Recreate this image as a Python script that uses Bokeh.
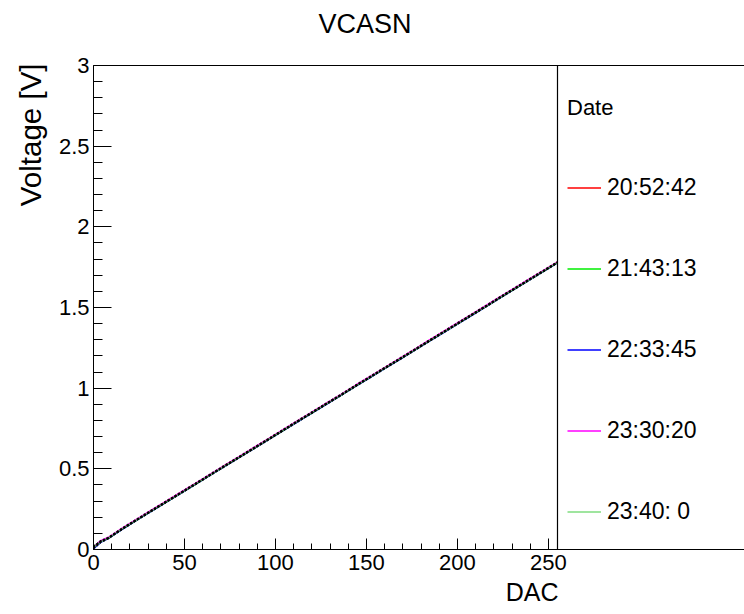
import math
from bokeh.plotting import figure
from bokeh.models import (Range1d, FixedTicker, LinearAxis, Span, Legend, Title,
                          LegendItem, CustomJSTickFormatter)
from bokeh.embed import file_html
from bokeh.resources import INLINE

# ---------------- data ----------------
dac = [0, 4, 8, 16, 24, 32, 40, 48, 56, 64, 72, 80, 88, 96, 104, 112, 120, 128,
       136, 144, 152, 160, 168, 176, 184, 192, 200, 208, 216, 224, 232, 240, 248, 255]

v_205242 = [0.010, 0.050, 0.071, 0.131, 0.187, 0.242, 0.298, 0.352, 0.408, 0.463, 0.519, 0.573,
            0.629, 0.684, 0.739, 0.795, 0.849, 0.905, 0.959, 1.016, 1.070, 1.126, 1.180, 1.236,
            1.291, 1.347, 1.401, 1.457, 1.511, 1.568, 1.622, 1.678, 1.732, 1.781]
v_214313 = [0.020, 0.052, 0.068, 0.128, 0.184, 0.240, 0.294, 0.350, 0.404, 0.461, 0.515, 0.571,
            0.625, 0.681, 0.736, 0.792, 0.846, 0.902, 0.956, 1.013, 1.067, 1.123, 1.177, 1.233,
            1.288, 1.344, 1.398, 1.454, 1.508, 1.565, 1.619, 1.675, 1.729, 1.778]
v_223345 = [0.005, 0.044, 0.067, 0.127, 0.183, 0.238, 0.293, 0.348, 0.403, 0.459, 0.514, 0.569,
            0.624, 0.679, 0.735, 0.790, 0.845, 0.900, 0.955, 1.011, 1.066, 1.121, 1.176, 1.231,
            1.287, 1.342, 1.397, 1.452, 1.507, 1.563, 1.618, 1.673, 1.728, 1.776]
v_233020 = [0.015, 0.055, 0.074, 0.134, 0.190, 0.245, 0.300, 0.355, 0.410, 0.466, 0.521, 0.576,
            0.631, 0.686, 0.742, 0.797, 0.852, 0.907, 0.962, 1.018, 1.073, 1.128, 1.183, 1.238,
            1.294, 1.349, 1.404, 1.459, 1.514, 1.570, 1.625, 1.680, 1.735, 1.783]
v_234000 = [0.012, 0.047, 0.069, 0.129, 0.185, 0.240, 0.295, 0.350, 0.405, 0.461, 0.516, 0.571,
            0.626, 0.681, 0.737, 0.792, 0.847, 0.902, 0.957, 1.013, 1.068, 1.123, 1.178, 1.233,
            1.289, 1.344, 1.399, 1.454, 1.509, 1.565, 1.620, 1.675, 1.730, 1.779]

series_labels = ["20:52:42", "21:43:13", "22:33:45", "23:30:20", "23:40: 0"]
series_values = [v_205242, v_214313, v_223345, v_233020, v_234000]
series_colors = ["#ff0000", "#00ee00", "#0000ff", "#ff00ff", "#7fdc7f"]

x_ticks = [0, 50, 100, 150, 200, 250]
x_minor = list(range(0, 251, 10))
y_ticks = [0, 0.5, 1, 1.5, 2, 2.5, 3]
y_minor = [i / 10 for i in range(0, 31)]

title_text = "VCASN"
x_title = "DAC"
y_title = "Voltage [V]"
legend_title = "Date"

# ---------------- layout ----------------
W, H = 744, 614
LEFT, TOP, BOTTOM = 93, 65, 65
frame_w = W - LEFT
data_px = 464.0  # pixels spanned by 0..max(dac)
x_end = max(dac) * frame_w / data_px

FONT = "Liberation Sans"

p = figure(width=W, height=H, output_backend="svg", toolbar_location=None,
           x_range=Range1d(0, x_end), y_range=Range1d(0, 3),
           min_border_left=LEFT, min_border_right=0, min_border_top=TOP,
           min_border_bottom=BOTTOM, x_axis_type=None, y_axis_type=None)
p.outline_line_color = None
p.background_fill_color = "white"
p.border_fill_color = "white"

xaxis = LinearAxis(ticker=FixedTicker(ticks=x_ticks, minor_ticks=x_minor))
xaxis.axis_line_color = "black"
xaxis.major_tick_line_color = "black"
xaxis.minor_tick_line_color = "black"
xaxis.major_tick_in = 11
xaxis.major_tick_out = 0
xaxis.minor_tick_in = 6
xaxis.minor_tick_out = 0
xaxis.major_label_standoff = 5
xaxis.major_label_text_font = FONT
xaxis.major_label_text_font_size = "22px"
xaxis.major_label_text_color = "black"
p.add_layout(xaxis, "below")

yaxis = LinearAxis(ticker=FixedTicker(ticks=y_ticks, minor_ticks=y_minor),
                   formatter=CustomJSTickFormatter(code="return String(tick)"))
yaxis.axis_line_color = "black"
yaxis.major_tick_line_color = "black"
yaxis.minor_tick_line_color = "black"
yaxis.major_tick_in = 18
yaxis.major_tick_out = 0
yaxis.minor_tick_in = 9
yaxis.minor_tick_out = 0
yaxis.major_label_standoff = 4
yaxis.major_label_text_font = FONT
yaxis.major_label_text_font_size = "22px"
yaxis.major_label_text_color = "black"
p.add_layout(yaxis, "left")

# top edge of the frame / legend box; its invisible tick keeps room for the title
topaxis = LinearAxis(ticker=FixedTicker(ticks=[0], minor_ticks=[]),
                     major_label_overrides={0: ""})
topaxis.axis_line_color = "black"
topaxis.major_label_text_font_size = "0px"
topaxis.major_label_text_alpha = 0
topaxis.major_label_standoff = 0
topaxis.major_tick_line_color = None
topaxis.minor_tick_line_color = None
topaxis.major_tick_in = 0
topaxis.minor_tick_in = 0
topaxis.major_tick_out = 25
topaxis.minor_tick_out = 0
p.add_layout(topaxis, "above")

p.xgrid.visible = False
p.ygrid.visible = False

# separator between the frame and the legend box
p.add_layout(Span(location=max(dac), dimension="height", line_color="black", line_width=1.2))

renderers = []
for vals, col in zip(series_values, series_colors):
    r = p.line(dac, vals, line_color=col, line_width=1.5)
    renderers.append(r)
for vals in series_values:
    p.line(dac, vals, line_color="black", line_width=1.6, line_dash="2 2", line_alpha=0.85)

legend = Legend(items=[LegendItem(label=l, renderers=[r]) for l, r in zip(series_labels, renderers)],
                title=legend_title, location=(474, 24))
legend.title_text_font = FONT
legend.title_text_font_size = "22px"
legend.title_text_font_style = "normal"
legend.title_text_color = "black"
legend.title_standoff = 53
legend.label_text_font = FONT
legend.label_text_font_size = "23px"
legend.label_text_color = "black"
legend.glyph_width = 34
legend.glyph_height = 27
legend.label_height = 27
legend.label_standoff = 6
legend.spacing = 54
legend.padding = 10
legend.margin = 0
legend.border_line_color = None
legend.background_fill_alpha = 0
p.add_layout(legend, "center")

# titles in the side panels
p.add_layout(Title(text=title_text, align="left", offset=225, standoff=4,
                   text_font=FONT, text_font_size="27px", text_font_style="normal",
                   text_color="black"), "above")
p.add_layout(Title(text=x_title, align="right", offset=186, standoff=7,
                   text_font=FONT, text_font_size="25px", text_font_style="normal",
                   text_color="black"), "below")
p.add_layout(Title(text=y_title, align="right", offset=-2, standoff=18,
                   text_font=FONT, text_font_size="29.5px", text_font_style="normal",
                   text_color="black"), "left")

open("out.html", "w").write(file_html(p, INLINE))
